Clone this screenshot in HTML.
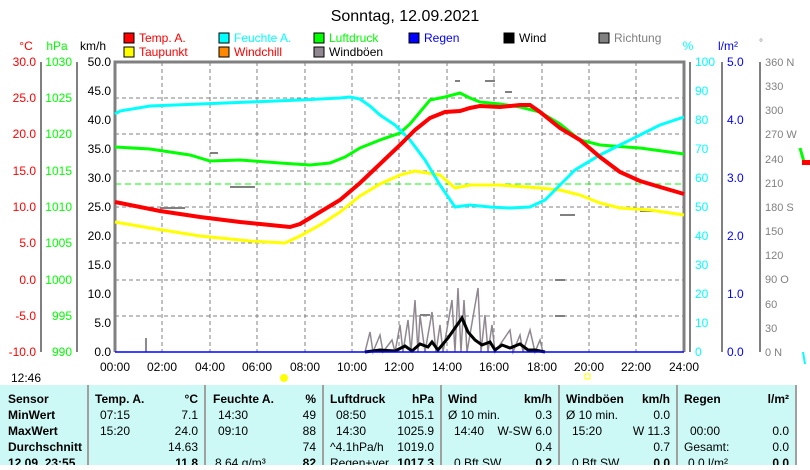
<!DOCTYPE html>
<html><head><meta charset="utf-8"><style>
body{margin:0;background:#fff;width:810px;height:465px;overflow:hidden;font-family:"Liberation Sans",sans-serif}
svg text{font-family:"Liberation Sans",sans-serif}
</style></head><body>
<svg width="810" height="465" xmlns="http://www.w3.org/2000/svg" font-size="12">
<text x="405" y="21" font-size="16" text-anchor="middle">Sonntag, 12.09.2021</text>
<!-- legend -->
<g font-size="12">
<rect x="124" y="33" width="10" height="10" fill="#f00" stroke="#000"/><text x="139" y="42" fill="#f00">Temp. A.</text>
<rect x="124" y="47" width="10" height="10" fill="#ff0" stroke="#000"/><text x="139" y="56" fill="#f00">Taupunkt</text>
<rect x="219" y="33" width="10" height="10" fill="#0ff" stroke="#000"/><text x="234" y="42" fill="#0ff">Feuchte A.</text>
<rect x="219" y="47" width="10" height="10" fill="#f80" stroke="#000"/><text x="234" y="56" fill="#f00">Windchill</text>
<rect x="314" y="33" width="10" height="10" fill="#0f0" stroke="#000"/><text x="329" y="42" fill="#0f0">Luftdruck</text>
<rect x="314" y="47" width="10" height="10" fill="#908890" stroke="#000"/><text x="329" y="56">Windböen</text>
<rect x="409" y="33" width="10" height="10" fill="#00f" stroke="#000"/><text x="424" y="42" fill="#00f">Regen</text>
<rect x="504" y="33" width="10" height="10" fill="#000" stroke="#000"/><text x="519" y="42">Wind</text>
<rect x="599" y="33" width="10" height="10" fill="#808080" stroke="#000"/><text x="614" y="42" fill="#808080">Richtung</text>
</g>
<!-- axis titles -->
<text x="26" y="50" fill="#f00" text-anchor="middle">°C</text>
<text x="57" y="50" fill="#0f0" text-anchor="middle">hPa</text>
<text x="93" y="50" text-anchor="middle">km/h</text>
<text x="688" y="50" fill="#0ff" text-anchor="middle">%</text>
<text x="728" y="50" fill="#00f" text-anchor="middle">l/m²</text>
<text x="761" y="46" fill="#808080" text-anchor="middle" font-size="10">°</text>
<!-- grid -->
<g stroke="#808080" stroke-dasharray="4,3" stroke-width="1">
<line x1="162" y1="62" x2="162" y2="352"/><line x1="210" y1="62" x2="210" y2="352"/><line x1="257" y1="62" x2="257" y2="352"/><line x1="305" y1="62" x2="305" y2="352"/><line x1="352" y1="62" x2="352" y2="352"/><line x1="399" y1="62" x2="399" y2="352"/><line x1="447" y1="62" x2="447" y2="352"/><line x1="494" y1="62" x2="494" y2="352"/><line x1="542" y1="62" x2="542" y2="352"/><line x1="589" y1="62" x2="589" y2="352"/><line x1="636" y1="62" x2="636" y2="352"/>
<line x1="115" y1="98" x2="684" y2="98"/><line x1="115" y1="134" x2="684" y2="134"/><line x1="115" y1="171" x2="684" y2="171"/><line x1="115" y1="207" x2="684" y2="207"/><line x1="115" y1="243" x2="684" y2="243"/><line x1="115" y1="280" x2="684" y2="280"/><line x1="115" y1="316" x2="684" y2="316"/>
</g>
<line x1="115" y1="184" x2="684" y2="184" stroke="#0f0" stroke-dasharray="6,4"/>
<!-- plot frame -->
<polyline points="115,352 115,62 684,62 684,352" fill="none" stroke="#808080" stroke-width="3"/>
<!-- left axes -->
<g stroke="#808080" stroke-width="2"><line x1="41" y1="62" x2="41" y2="352"/><line x1="77" y1="62" x2="77" y2="352"/><line x1="690" y1="62" x2="690" y2="352"/><line x1="722" y1="62" x2="722" y2="352"/><line x1="760" y1="62" x2="760" y2="352"/></g>
<g font-size="12" text-anchor="end">
<g fill="#f00"><text x="36" y="66">30.0</text><text x="36" y="102">25.0</text><text x="36" y="138">20.0</text><text x="36" y="175">15.0</text><text x="36" y="211">10.0</text><text x="36" y="247">5.0</text><text x="36" y="284">0.0</text><text x="36" y="320">-5.0</text><text x="36" y="356">-10.0</text></g>
<g fill="#0f0"><text x="72" y="66">1030</text><text x="72" y="102">1025</text><text x="72" y="138">1020</text><text x="72" y="175">1015</text><text x="72" y="211">1010</text><text x="72" y="247">1005</text><text x="72" y="284">1000</text><text x="72" y="320">995</text><text x="72" y="356">990</text></g>
<g><text x="111" y="66">50.0</text><text x="111" y="95">45.0</text><text x="111" y="124">40.0</text><text x="111" y="153">35.0</text><text x="111" y="182">30.0</text><text x="111" y="211">25.0</text><text x="111" y="240">20.0</text><text x="111" y="269">15.0</text><text x="111" y="298">10.0</text><text x="111" y="327">5.0</text><text x="111" y="356">0.0</text></g>
</g>
<g font-size="12" fill="#0ff"><text x="695" y="66">100</text><text x="695" y="95">90</text><text x="695" y="124">80</text><text x="695" y="153">70</text><text x="695" y="182">60</text><text x="695" y="211">50</text><text x="695" y="240">40</text><text x="695" y="269">30</text><text x="695" y="298">20</text><text x="695" y="327">10</text><text x="695" y="356">0</text></g>
<g font-size="12" fill="#00f"><text x="727" y="66">5.0</text><text x="727" y="124">4.0</text><text x="727" y="182">3.0</text><text x="727" y="240">2.0</text><text x="727" y="298">1.0</text><text x="727" y="356">0.0</text></g>
<g font-size="11" fill="#808080"><text x="765" y="66">360 N</text><text x="765" y="90">330</text><text x="765" y="114">300</text><text x="765" y="138">270 W</text><text x="765" y="163">240</text><text x="765" y="187">210</text><text x="765" y="211">180 S</text><text x="765" y="235">150</text><text x="765" y="259">120</text><text x="765" y="283">90 O</text><text x="765" y="308">60</text><text x="765" y="332">30</text><text x="765" y="356">0 N</text></g>
<!-- scattered direction dashes -->
<g stroke="#808080" stroke-width="2"><line x1="455" y1="81" x2="460" y2="81"/><line x1="485" y1="81" x2="495" y2="81"/><line x1="505" y1="92" x2="512" y2="92"/><line x1="210" y1="153" x2="218" y2="153"/><line x1="230" y1="187" x2="255" y2="187"/><line x1="160" y1="208" x2="185" y2="208"/><line x1="560" y1="215" x2="575" y2="215"/><line x1="640" y1="211" x2="660" y2="211"/><line x1="420" y1="315" x2="430" y2="315"/><line x1="555" y1="316" x2="565" y2="316"/><line x1="555" y1="280" x2="565" y2="280"/></g>
<!-- gusts -->
<polyline fill="none" stroke="#908890" stroke-width="1.5" points="365,352 370,332 373,352 380,335 383,352 392,340 395,352 400,325 403,352 408,320 411,352 415,300 418,352 420,315 425,352 432,312 436,352 440,325 443,352 452,300 455,352 458,288 461,352 464,300 467,352 478,288 481,352 485,315 488,352 492,325 495,352 510,330 513,352 520,335 523,352 530,330 535,352 540,340 543,352"/>
<line x1="146" y1="338" x2="146" y2="352" stroke="#908890" stroke-width="2"/>
<!-- wind -->
<polyline fill="none" stroke="#000" stroke-width="3" points="365,352 380,350 395,351 405,346 412,351 420,344 428,347 432,342 438,350 448,338 455,328 462,318 468,332 475,340 482,345 490,342 495,350 502,345 510,348 520,344 528,350 535,350 545,352"/>
<line x1="115" y1="352" x2="684" y2="352" stroke="#00f" stroke-width="1.5"/>
<!-- series -->
<polyline fill="none" stroke="#ff0" stroke-width="3" points="115,222 150,228 200,236 250,241 285,243 300,236 320,225 340,212 360,196 380,184 400,175 415,171 440,175 455,188 470,185 500,185 540,188 560,190 580,195 600,203 620,208 650,210 684,215"/>
<polyline fill="none" stroke="#0f0" stroke-width="3" points="115,147 150,149 190,155 210,161 240,160 280,163 310,165 330,163 345,157 360,148 380,140 400,133 410,124 420,112 430,100 445,97 460,93 470,98 480,102 500,104 520,107 540,112 560,124 580,140 600,145 640,148 684,154"/>
<polyline fill="none" stroke="#0ff" stroke-width="3" points="115,114 120,111 150,106 200,104 250,102 300,100 340,98 350,97 360,99 370,106 380,115 395,125 410,140 425,160 440,185 455,207 470,205 490,207 510,208 530,207 545,200 560,185 575,170 600,155 620,145 640,135 660,125 684,117"/>
<polyline fill="none" stroke="#f00" stroke-width="4" points="115,202 130,205 160,211 200,217 240,222 270,225 290,227 300,224 320,212 340,200 360,183 380,164 400,145 415,130 430,118 445,112 460,111 470,108 480,106 500,107 520,105 530,105 540,112 560,128 580,140 600,157 620,172 640,181 660,187 684,194"/>
<!-- x labels -->
<g font-size="12" text-anchor="middle"><text x="115" y="371">00:00</text><text x="162" y="371">02:00</text><text x="210" y="371">04:00</text><text x="257" y="371">06:00</text><text x="305" y="371">08:00</text><text x="352" y="371">10:00</text><text x="399" y="371">12:00</text><text x="447" y="371">14:00</text><text x="494" y="371">16:00</text><text x="542" y="371">18:00</text><text x="589" y="371">20:00</text><text x="636" y="371">22:00</text><text x="684" y="371">24:00</text></g>
<text x="11" y="382" font-size="12">12:46</text>
<circle cx="284" cy="378" r="4" fill="#ff0"/><rect x="585" y="374" width="5" height="5" fill="none" stroke="#ff0"/>
<path d="M803,352 l2,12" stroke="#0ff" stroke-width="2"/><path d="M800,148 l4,14" stroke="#0f0" stroke-width="3"/><rect x="802" y="160" width="8" height="5" fill="#f00"/>
<!-- table -->
<rect x="0" y="385" width="796" height="80" fill="#ccf8f6"/>
<g stroke="#a0a0a0" stroke-width="2"><line x1="88" y1="385" x2="88" y2="465"/><line x1="205" y1="385" x2="205" y2="465"/><line x1="323" y1="385" x2="323" y2="465"/><line x1="441" y1="385" x2="441" y2="465"/><line x1="559" y1="385" x2="559" y2="465"/><line x1="677" y1="385" x2="677" y2="465"/><line x1="796" y1="385" x2="796" y2="465"/></g>
<g font-size="12">
<g font-weight="bold"><text x="8" y="403">Sensor</text><text x="8" y="419">MinWert</text><text x="8" y="435">MaxWert</text><text x="8" y="451">Durchschnitt</text><text x="8" y="467">12.09. 23:55</text>
<text x="95" y="403">Temp. A.</text><text x="213" y="403">Feuchte A.</text><text x="330" y="403">Luftdruck</text><text x="448" y="403">Wind</text><text x="566" y="403">Windböen</text><text x="684" y="403">Regen</text></g>
<g text-anchor="end" font-weight="bold"><text x="198" y="403">°C</text><text x="316" y="403">%</text><text x="434" y="403">hPa</text><text x="552" y="403">km/h</text><text x="670" y="403">km/h</text><text x="789" y="403">l/m²</text>
<text x="198" y="467">11.8</text><text x="316" y="467">82</text><text x="434" y="467">1017.3</text><text x="552" y="467">0.2</text><text x="670" y="467">0.0</text><text x="789" y="467">0.0</text></g>
<text x="100" y="419">07:15</text><text x="100" y="435">15:20</text><text x="218" y="419">14:30</text><text x="218" y="435">09:10</text><text x="336" y="419">08:50</text><text x="336" y="435">14:30</text><text x="330" y="451">^4.1hPa/h</text><text x="330" y="467">Regen+ver.</text><text x="215" y="467">8.64 g/m³</text>
<text x="448" y="419">Ø 10 min.</text><text x="454" y="435">14:40</text><text x="454" y="467">0 Bft SW</text>
<text x="566" y="419">Ø 10 min.</text><text x="572" y="435">15:20</text><text x="572" y="467">0 Bft SW</text>
<text x="690" y="435">00:00</text><text x="684" y="451">Gesamt:</text><text x="688" y="467">0.0 l/m²</text>
<g text-anchor="end"><text x="198" y="419">7.1</text><text x="198" y="435">24.0</text><text x="198" y="451">14.63</text><text x="316" y="419">49</text><text x="316" y="435">88</text><text x="316" y="451">74</text><text x="434" y="419">1015.1</text><text x="434" y="435">1025.9</text><text x="434" y="451">1019.0</text><text x="552" y="419">0.3</text><text x="552" y="435">W-SW 6.0</text><text x="552" y="451">0.4</text><text x="670" y="419">0.0</text><text x="670" y="435">W 11.3</text><text x="670" y="451">0.7</text><text x="789" y="435">0.0</text><text x="789" y="451">0.0</text></g>
</g>
</svg>
</body></html>
